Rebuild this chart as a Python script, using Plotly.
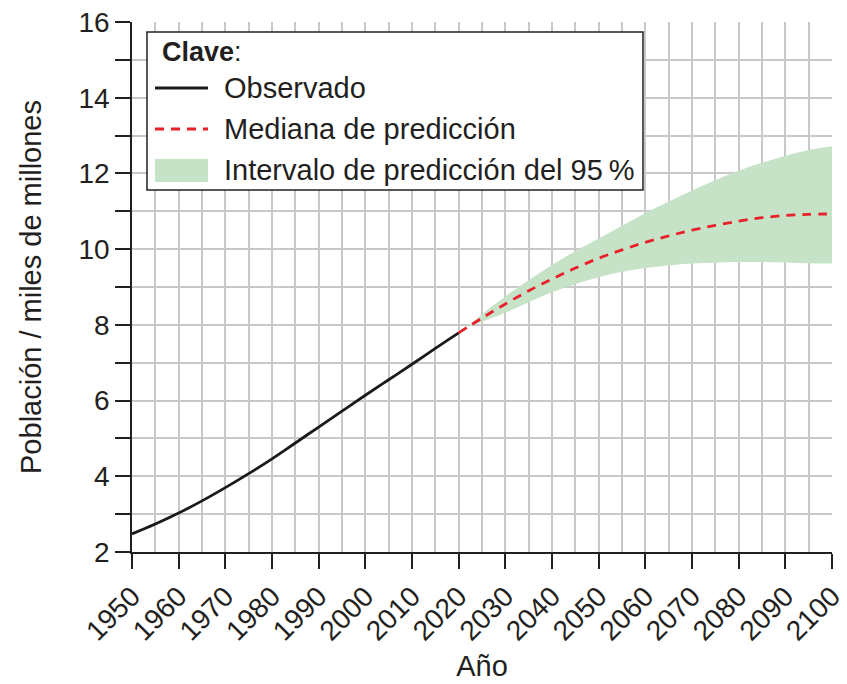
import plotly.graph_objects as go

obs_years = [1950, 1955, 1960, 1965, 1970, 1975, 1980, 1985, 1990, 1995, 2000, 2005, 2010, 2015, 2020]
obs_pop = [2.48, 2.74, 3.03, 3.35, 3.70, 4.07, 4.46, 4.88, 5.30, 5.72, 6.14, 6.55, 6.96, 7.38, 7.79]

pred_years = [2020, 2025, 2030, 2035, 2040, 2045, 2050, 2055, 2060, 2065, 2070, 2075, 2080, 2085, 2090, 2095, 2100]
pred_median = [7.79, 8.18, 8.55, 8.90, 9.21, 9.50, 9.76, 9.98, 10.18, 10.35, 10.50, 10.63, 10.74, 10.83, 10.89, 10.92, 10.93]

band_years = [2022, 2025, 2030, 2035, 2040, 2045, 2050, 2055, 2060, 2065, 2070, 2075, 2080, 2085, 2090, 2095, 2100]
band_low = [7.95, 8.08, 8.32, 8.60, 8.86, 9.08, 9.26, 9.40, 9.50, 9.57, 9.62, 9.64, 9.66, 9.66, 9.65, 9.63, 9.62]
band_high = [7.95, 8.28, 8.75, 9.18, 9.58, 9.95, 10.28, 10.62, 10.95, 11.25, 11.55, 11.82, 12.07, 12.28, 12.47, 12.62, 12.72]

x_ticks = list(range(1950, 2101, 10))
y_ticks = [2, 4, 6, 8, 10, 12, 14, 16]

FONT = "Liberation Sans, Arial, sans-serif"
GREEN = "#c6e3c8"
RED = "#e8202a"
INK = "#231f20"

fig = go.Figure()
fig.add_trace(go.Scatter(x=band_years, y=band_low, mode="lines", line=dict(width=0, shape="spline"),
                         hoverinfo="skip", showlegend=False))
fig.add_trace(go.Scatter(x=band_years, y=band_high, mode="lines", line=dict(width=0, shape="spline"),
                         fill="tonexty", fillcolor=GREEN, showlegend=False))
fig.add_trace(go.Scatter(x=obs_years, y=obs_pop, mode="lines",
                         line=dict(color="#1a1a1a", width=2.8, shape="spline"), showlegend=False))
fig.add_trace(go.Scatter(x=pred_years, y=pred_median, mode="lines",
                         line=dict(color=RED, width=2.8, dash="9px,7px", shape="spline"), showlegend=False))

# page body has an 8px margin, so the figure is drawn 8px smaller and offset
fig.update_layout(
    width=839, height=676,
    margin=dict(l=124, r=15, t=14, b=132),
    plot_bgcolor="white", paper_bgcolor="white",
    font=dict(family=FONT, size=28, color=INK),
    showlegend=False,
)
fig.update_xaxes(
    range=[1950, 2100], tickvals=x_ticks, ticktext=[str(v) for v in x_ticks], tickangle=-45,
    tickfont=dict(size=28), ticklabeloverflow="allow",
    ticks="outside", ticklen=15, tickwidth=1.5, tickcolor=INK,
    showline=True, linecolor=INK, linewidth=1.5,
    showgrid=True, gridcolor="#c8c8c8", gridwidth=1.5,
    minor=dict(dtick=5, showgrid=True, gridcolor="#c8c8c8", gridwidth=1.5, ticks=""),
    title=dict(text="Año", font=dict(size=29), standoff=10),
    zeroline=False, automargin=False,
)
fig.update_yaxes(
    range=[2, 16], tickvals=y_ticks, ticktext=[str(v) for v in y_ticks],
    tickfont=dict(size=28), ticklabeloverflow="allow",
    ticks="outside", ticklen=15, tickwidth=1.5, tickcolor=INK,
    showline=True, linecolor=INK, linewidth=1.5,
    showgrid=True, gridcolor="#c8c8c8", gridwidth=1.5,
    minor=dict(dtick=1, showgrid=True, gridcolor="#c8c8c8", gridwidth=1.5,
               ticks="outside", ticklen=15, tickwidth=1.5, tickcolor=INK),
    title=dict(text="Población / miles de millones", font=dict(size=29), standoff=28),
    zeroline=False, automargin=False,
)

# Manual key box (pixel positions in the reference converted to paper coords)
W, H = 700, 530
def px(x): return (x - 132) / W
def py(y): return (552 - y) / H

fig.add_shape(type="rect", xref="paper", yref="paper", x0=px(147), x1=px(643), y0=py(190), y1=py(32),
              line=dict(color=INK, width=1.5), fillcolor="white", layer="above")
fig.add_shape(type="line", xref="paper", yref="paper", x0=px(155), x1=px(208), y0=py(88), y1=py(88),
              line=dict(color="#1a1a1a", width=2.8), layer="above")
fig.add_shape(type="line", xref="paper", yref="paper", x0=px(155), x1=px(208), y0=py(129), y1=py(129),
              line=dict(color=RED, width=2.8, dash="9px,7px"), layer="above")
fig.add_shape(type="rect", xref="paper", yref="paper", x0=px(155), x1=px(208), y0=py(182), y1=py(159),
              line=dict(width=0), fillcolor=GREEN, layer="above")

labels = [("<b>Clave</b>:", 52), ("Observado", 88), ("Mediana de predicción", 129),
          ("Intervalo de predicción del 95\u2009%", 170)]
for i, (t, yy) in enumerate(labels):
    fig.add_annotation(xref="paper", yref="paper", x=px(160 if i == 0 else 222), y=py(yy),
                       text=t, showarrow=False, xanchor="left", yanchor="middle",
                       font=dict(size=29 if i else 27, family=FONT, color=INK))

fig.write_html("out.html")
